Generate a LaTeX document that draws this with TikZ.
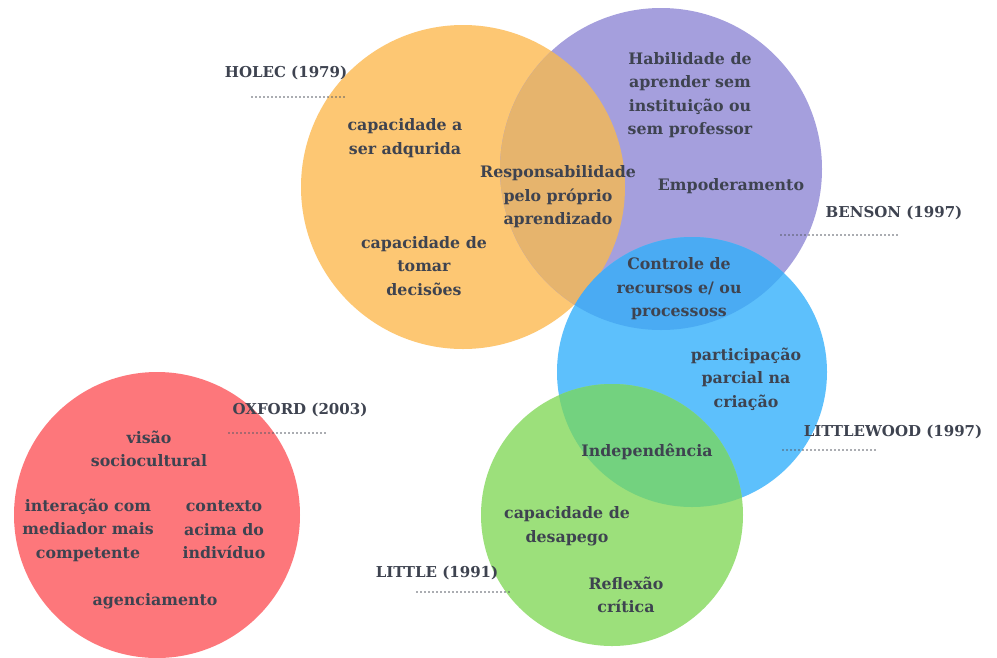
\documentclass[tikz,border=0pt]{standalone}
\usepackage{fontspec}
\setmainfont{DejaVu Serif}
\definecolor{corange}{HTML}{FDC773}
\definecolor{cpurple}{HTML}{A59FDD}
\definecolor{ctan}{HTML}{E6B46D}
\definecolor{cblue}{HTML}{5DC0FC}
\definecolor{cdblue}{HTML}{4AABF3}
\definecolor{cgreen}{HTML}{9CE07B}
\definecolor{cteal}{HTML}{73D27F}
\definecolor{cred}{HTML}{FD777B}
\definecolor{ctext}{HTML}{3E4350}
\definecolor{cdots}{HTML}{555A64}
\begin{document}
\begin{tikzpicture}[x=1pt,y=-1pt,
  txt/.style={text=ctext,align=center,font=\bfseries\fontsize{15.8}{23.5}\selectfont,inner sep=0pt},
  author/.style={text=ctext,font=\bfseries\fontsize{15}{18}\selectfont,inner sep=0pt},
  dotline/.style={draw=cdots,line width=1.8pt,line cap=round,dash pattern=on 0pt off 4pt}]
\useasboundingbox (0,0) rectangle (997,657);
\fill[white] (0,0) rectangle (997,657);
% centres
\coordinate (O) at (463,187);
\coordinate (P) at (661,169);
\coordinate (B) at (692,372);
\coordinate (G) at (612,515);
\coordinate (R) at (157,515);
\def\rO{162pt}\def\rP{161pt}\def\rB{135pt}\def\rG{131pt}\def\rR{143pt}
% base circles
\fill[corange] (O) circle[radius=\rO];
\fill[cpurple] (P) circle[radius=\rP];
\fill[cblue] (B) circle[radius=\rB];
\fill[cgreen] (G) circle[radius=\rG];
\fill[cred] (R) circle[radius=\rR];
% overlaps
\begin{scope}
  \clip (O) circle[radius=\rO];
  \fill[ctan] (P) circle[radius=\rP];
\end{scope}
\begin{scope}
  \clip (B) circle[radius=\rB];
  \fill[cdblue] (P) circle[radius=\rP];
  \fill[cdblue] (O) circle[radius=\rO];
\end{scope}
\begin{scope}
  \clip (B) circle[radius=\rB];
  \fill[cteal] (G) circle[radius=\rG];
\end{scope}
% authors
\node[author] (holec) at (286,73) {HOLEC (1979)};
\coordinate (h1) at (252,97); \coordinate (h2) at (347,97);
\draw[dotline] (h1) -- (h2);
\node[author] (benson) at (894,213) {BENSON (1997)};
\coordinate (b1) at (781,235); \coordinate (b2) at (897,235);
\draw[dotline] (b1) -- (b2);
\node[author] (littlewood) at (893,432) {LITTLEWOOD (1997)};
\coordinate (l1) at (783,450); \coordinate (l2) at (877,450);
\draw[dotline] (l1) -- (l2);
\node[author] (little) at (437,573) {LITTLE (1991)};
\coordinate (t1) at (417,592); \coordinate (t2) at (512,592);
\draw[dotline] (t1) -- (t2);
\node[author] (oxford) at (300,410) {OXFORD (2003)};
\coordinate (x1) at (229,433); \coordinate (x2) at (325,433);
\draw[dotline] (x1) -- (x2);
% circle texts
\node[txt] (o1) at (405,138) {capacidade a\\ser adqurida};
\node[txt] (o2) at (424,266) {capacidade de\\tomar\\decisões};
\node[txt] (op) at (558,197) {Responsabilidade\\pelo próprio\\aprendizado};
\node[txt] (p1) at (690,95) {Habilidade de\\aprender sem\\instituição ou\\sem professor};
\node[txt] (p2) at (731,186) {Empoderamento};
\node[txt] (pb) at (679,289) {Controle de\\recursos e/ ou\\processoss};
\node[txt] (b1t) at (746,379) {participação\\parcial na\\criação};
\node[txt] (bg) at (647,452) {Independência};
\node[txt] (g1) at (567,526) {capacidade de\\desapego};
\node[txt] (g2) at (626,595) {Reflexão\\crítica};
\node[txt] (r1) at (149,449) {visão\\sociocultural};
\node[txt] (r2) at (88,530) {interação com\\mediador mais\\competente};
\node[txt] (r3) at (224,530) {contexto\\acima do\\indivíduo};
\node[txt] (r4) at (155,601) {agenciamento};
\end{tikzpicture}
\end{document}
